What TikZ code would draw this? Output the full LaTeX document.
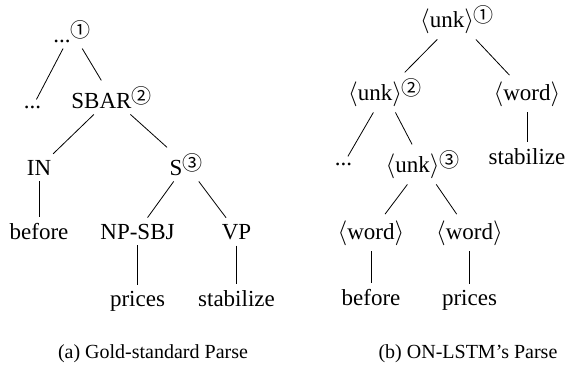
\documentclass[tikz,border=0pt]{standalone}
\usepackage{fontspec}
\setmainfont{Liberation Serif}
\newfontfamily\circfont{Noto Sans CJK SC}
\newcommand\cnum[1]{\raisebox{4.5pt}{\fontsize{20}{20}\selectfont\circfont #1}}
\newcommand\ang[1]{$\langle$#1$\rangle$}
\begin{document}
\begin{tikzpicture}[x=1pt,y=-1pt,
  lab/.style={anchor=base,font=\fontsize{23}{27}\selectfont,inner sep=6pt},
  captext/.style={anchor=base,font=\fontsize{20}{24}\selectfont},
  conn/.style={draw=black,line width=0.8pt}]
\useasboundingbox (0,0) rectangle (568,376);
% left tree
\node[lab] (l1) at (72,42) {...\cnum{①}};
\node[lab] (l2) at (32.5,108) {...};
\node[lab] (l3) at (111.5,108) {SBAR\cnum{②}};
\node[lab] (l4) at (39,175) {IN};
\node[lab] (l5) at (186,175) {S\cnum{③}};
\node[lab] (l6) at (39,239) {before};
\node[lab] (l7) at (137.5,239) {NP-SBJ};
\node[lab] (l8) at (236.5,239) {VP};
\node[lab] (l9) at (137.5,306) {prices};
\node[lab] (l10) at (236.5,306) {stabilize};
\node[captext] (ca) at (153,358) {(a) Gold-standard Parse};
\path[conn] (l1) -- (l2);
\path[conn] (l1) -- (l3);
\path[conn] (l3) -- (l4);
\path[conn] (l3) -- (l5);
\path[conn] (l4) -- (l6);
\path[conn] (l5) -- (l7);
\path[conn] (l5) -- (l8);
\path[conn] (l7) -- (l9);
\path[conn] (l8) -- (l10);
% right tree
\node[lab] (r1) at (457,27) {\ang{unk}\cnum{①}};
\node[lab] (r2) at (385,100) {\ang{unk}\cnum{②}};
\node[lab] (r3) at (527,100) {\ang{word}};
\node[lab] (r4) at (527,164) {stabilize};
\node[lab] (r5) at (343.5,165) {...};
\node[lab] (r6) at (422.5,172) {\ang{unk}\cnum{③}};
\node[lab] (r7) at (371,239) {\ang{word}};
\node[lab] (r8) at (469.5,239) {\ang{word}};
\node[lab] (r9) at (371,305) {before};
\node[lab] (r10) at (469.5,305) {prices};
\node[captext] (cb) at (468,358) {(b) ON-LSTM’s Parse};
\path[conn] (r1) -- (r2);
\path[conn] (r1) -- (r3);
\path[conn] (r3) -- (r4);
\path[conn] (r2) -- (r5);
\path[conn] (r2) -- (r6);
\path[conn] (r6) -- (r7);
\path[conn] (r6) -- (r8);
\path[conn] (r7) -- (r9);
\path[conn] (r8) -- (r10);
\end{tikzpicture}
\end{document}
